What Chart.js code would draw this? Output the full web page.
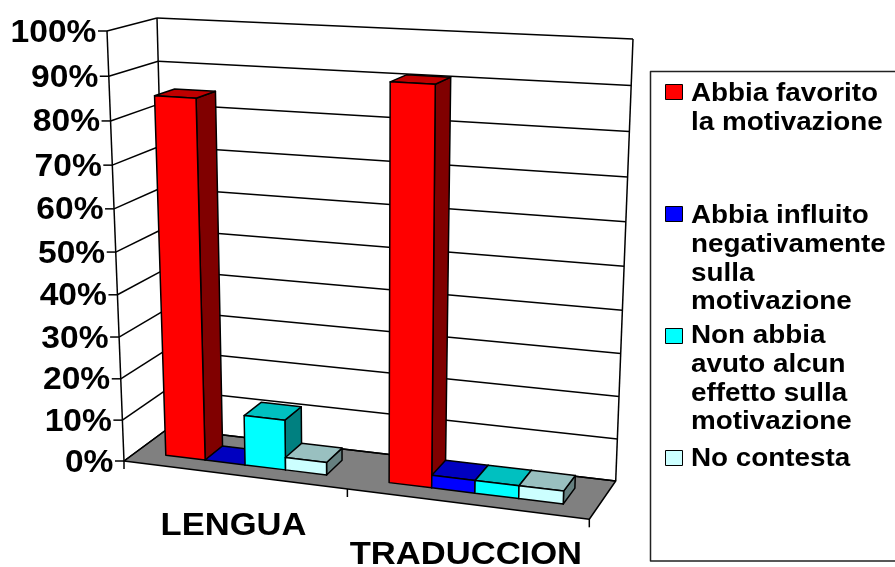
<!DOCTYPE html>
<html>
<head>
<meta charset="utf-8">
<style>
  html, body { margin: 0; padding: 0; background: #fff; overflow: hidden; }
</style>
</head>
<body>
<canvas id="myChart" width="895" height="567"></canvas>
<script src="https://cdn.jsdelivr.net/npm/chart.js@4/dist/chart.umd.min.js"></script>
<script>
// chart data
const categories = ['LENGUA', 'TRADUCCION'];
const favorito = [85, 91];
const negativo = [0, 3];
const nessunEffetto = [12, 3];
const noContesta = [3, 3];
const seriesNames = ['Abbia favorito la motivazione', 'Abbia influito negativamente sulla motivazione', 'Non abbia avuto alcun effetto sulla motivazione', 'No contesta'];
const legendLines = [
    ['Abbia favorito', 'la motivazione'],
    ['Abbia influito', 'negativamente', 'sulla', 'motivazione'],
    ['Non abbia', 'avuto alcun', 'effetto sulla', 'motivazione'],
    ['No contesta']
];

// front, top and side colour of each series
const faceColors = [
    ['#ff0000', '#c00000', '#800000'],
    ['#0000ff', '#0000c0', '#000080'],
    ['#00ffff', '#00c0c0', '#008080'],
    ['#ccffff', '#99c0c0', '#668080']
];

// corners of the 3D box as seen in the picture
const box = {
    frontBottomLeft: [124, 461], frontBottomRight: [589.3, 519.3],
    frontTopLeft: [107, 31], frontTopRight: [603, 55],
    backBottomLeft: [168, 428.5], backBottomRight: [615.7, 481],
    backTopLeft: [157, 18], backTopRight: [633, 39]
};
const barFrontDepth = 0.29;
const barBackDepth = 0.71;
const legendBaselines = [101, 223, 343, 466];

// perspective: things further right / higher get a little squeezed
function warp(t, r) {
    return t / (t + (1 - t) * r);
}

function mix(a, b, t) {
    return [a[0] + (b[0] - a[0]) * t, a[1] + (b[1] - a[1]) * t];
}

// u along categories, v along values, w into the depth (all 0..1)
function project(u, v, w) {
    const uu = warp(u, 1.083);
    const vv = warp(v, 1.058);
    const front = mix(mix(box.frontBottomLeft, box.frontBottomRight, uu), mix(box.frontTopLeft, box.frontTopRight, uu), vv);
    const back = mix(mix(box.backBottomLeft, box.backBottomRight, uu), mix(box.backTopLeft, box.backTopRight, uu), vv);
    return mix(front, back, w);
}

function polygon(ctx, points, fill) {
    ctx.beginPath();
    points.forEach((p, i) => i ? ctx.lineTo(p[0], p[1]) : ctx.moveTo(p[0], p[1]));
    ctx.closePath();
    if (fill) {
        ctx.fillStyle = fill;
        ctx.fill();
    }
    ctx.stroke();
}

function line(ctx, a, b) {
    ctx.beginPath();
    ctx.moveTo(a[0], a[1]);
    ctx.lineTo(b[0], b[1]);
    ctx.stroke();
}

// the reference text is stretched sideways, so stretch it here too
function stretchedText(ctx, text, x, y, font, stretch, align) {
    ctx.save();
    ctx.font = font;
    ctx.fillStyle = '#000';
    ctx.textAlign = align;
    ctx.textBaseline = 'alphabetic';
    ctx.translate(x, y);
    ctx.scale(stretch, 1);
    ctx.fillText(text, 0, 0);
    ctx.restore();
}

const box3d = {
    id: 'box3d',
    beforeDatasetsDraw(chart) {
        const ctx = chart.ctx;
        const area = chart.chartArea;
        const xScale = chart.scales.x;
        const yScale = chart.scales.y;
        const toU = x => (x - area.left) / area.width;
        const toV = y => (area.bottom - y) / area.height;

        ctx.save();
        ctx.strokeStyle = '#000';
        ctx.lineWidth = 1.5;
        ctx.lineJoin = 'round';

        // floor
        polygon(ctx, [project(0, 0, 0), project(1, 0, 0), project(1, 0, 1), project(0, 0, 1)], '#808080');

        // walls, gridlines and value labels
        yScale.ticks.forEach(tick => {
            const v = toV(yScale.getPixelForValue(tick.value));
            const edge = project(0, v, 0);
            line(ctx, edge, project(0, v, 1));
            line(ctx, project(0, v, 1), project(1, v, 1));
            line(ctx, [edge[0] - 9, edge[1]], edge);
            stretchedText(ctx, tick.label, edge[0] - 10.5, edge[1] + 10.5, 'bold 32px "Liberation Sans"', 1.05, 'right');
        });
        line(ctx, project(0, 0, 0), project(0, 1, 0));
        line(ctx, project(0, 0, 1), project(0, 1, 1));
        line(ctx, project(1, 0, 1), project(1, 1, 1));

        // category ticks and labels
        [0, 0.5, 1].forEach(u => {
            const p = project(u, 0, 0);
            line(ctx, p, [p[0], p[1] + 8]);
        });
        xScale.ticks.forEach((tick, i) => {
            const p = project(toU(xScale.getPixelForTick(i)), 0, 0);
            stretchedText(ctx, tick.label, p[0], p[1] + 60.5, 'bold 32px "Liberation Sans"', 1.08, 'center');
        });

        // bars, left to right so each one covers the side of the one before
        categories.forEach((cat, c) => {
            chart.data.datasets.forEach((ds, s) => {
                const bar = chart.getDatasetMeta(s).data[c].getProps(['x', 'y', 'base', 'width'], true);
                const u0 = toU(bar.x - bar.width / 2);
                const u1 = toU(bar.x + bar.width / 2);
                const v0 = toV(bar.base);
                const v1 = toV(bar.y);
                const [frontColor, topColor, sideColor] = faceColors[s];
                polygon(ctx, [project(u1, v0, barFrontDepth), project(u1, v0, barBackDepth), project(u1, v1, barBackDepth), project(u1, v1, barFrontDepth)], sideColor);
                polygon(ctx, [project(u0, v1, barFrontDepth), project(u1, v1, barFrontDepth), project(u1, v1, barBackDepth), project(u0, v1, barBackDepth)], topColor);
                if (v1 > v0) {
                    polygon(ctx, [project(u0, v0, barFrontDepth), project(u1, v0, barFrontDepth), project(u1, v1, barFrontDepth), project(u0, v1, barFrontDepth)], frontColor);
                }
            });
        });

        // legend box runs off the right edge of the picture
        ctx.strokeStyle = '#222';
        ctx.strokeRect(650.5, 71.5, 300, 489.5);
        ctx.strokeStyle = '#000';
        ctx.lineWidth = 1;
        legendLines.forEach((lines, s) => {
            const top = 84.5 + s * 122;
            ctx.fillStyle = faceColors[s][0];
            ctx.fillRect(665.5, top, 17, 15);
            ctx.strokeRect(665.5, top, 17, 15);
            lines.forEach((text, i) => {
                stretchedText(ctx, text, 691, legendBaselines[s] + i * 28.8, 'bold 25px "Liberation Sans"', 1.113, 'left');
            });
        });
        ctx.restore();

        return false; // the flat bars are replaced by the boxes above
    }
};

const ctx = document.getElementById('myChart').getContext('2d');
const myChart = new Chart(ctx, {
    type: 'bar',
    data: {
        labels: categories,
        datasets: [favorito, negativo, nessunEffetto, noContesta].map((values, i) => ({
            label: seriesNames[i],
            data: values,
            backgroundColor: faceColors[i][0]
        }))
    },
    options: {
        responsive: false,
        animation: false,
        layout: { padding: { left: 124, right: 306, top: 31, bottom: 106 } },
        datasets: { bar: { categoryPercentage: 0.728, barPercentage: 1 } },
        plugins: { legend: { display: false }, tooltip: { enabled: false } },
        scales: {
            x: { display: false },
            y: {
                display: false,
                min: 0,
                max: 100,
                ticks: { stepSize: 10, callback: value => value + '%' }
            }
        }
    },
    plugins: [box3d]
});
</script>
</body>
</html>
